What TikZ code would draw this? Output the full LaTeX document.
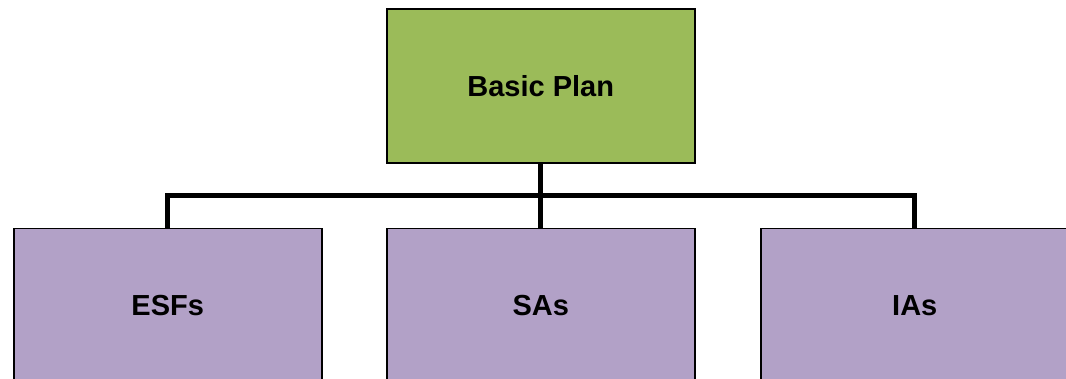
\documentclass[tikz,border=0pt]{standalone}
\usepackage{fontspec}
\setmainfont{Liberation Sans}
\definecolor{plangreen}{HTML}{9BBB59}
\definecolor{partpurple}{HTML}{B2A1C7}
\begin{document}
\begin{tikzpicture}[x=1pt,y=-1pt,
  box/.style={draw=black, line width=1.5pt, minimum width=308pt, minimum height=154pt,
    inner sep=0pt, font=\fontsize{29}{33}\selectfont\bfseries, anchor=north west},
  conn/.style={draw=black, line width=5pt}]
\useasboundingbox (0,0) rectangle (1066,379);
\node[box, fill=plangreen] (plan) at (386,8.5) {Basic Plan};
\node[box, fill=partpurple] (esf) at (13,228) {ESFs};
\node[box, fill=partpurple] (sas) at (386,228) {SAs};
\node[box, fill=partpurple] (ias) at (760,228) {IAs};
\coordinate (bus) at (541,195.5);
\draw[conn] (plan.south) -- (sas.north);
\draw[conn] (esf.north) -- (esf.north |- bus) -- (ias.north |- bus) -- (ias.north);
\end{tikzpicture}
\end{document}
